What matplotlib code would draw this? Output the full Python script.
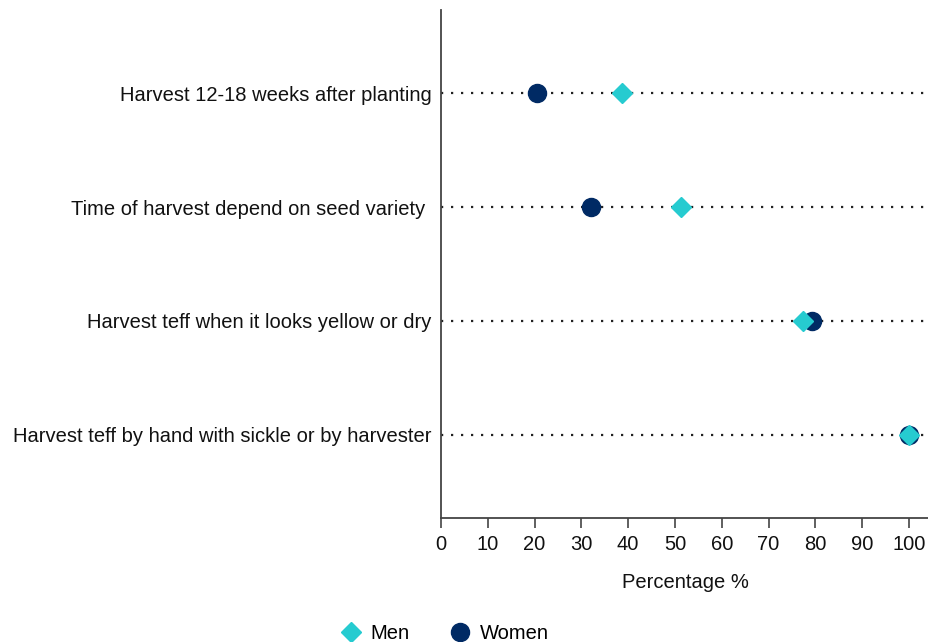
import matplotlib
matplotlib.use("Agg")
import matplotlib.pyplot as plt
from matplotlib.lines import Line2D

plt.rcParams['font.family'] = ['Liberation Sans', 'DejaVu Sans']

categories = [
    "Harvest 12-18 weeks after planting",
    "Time of harvest depend on seed variety ",
    "Harvest teff when it looks yellow or dry",
    "Harvest teff by hand with sickle or by harvester",
]
men = [38.7, 51.3, 77.4, 100.0]
women = [20.5, 32.0, 79.3, 100.0]
xticks = [0, 10, 20, 30, 40, 50, 60, 70, 80, 90, 100]

men_color = "#26CBD0"
women_color = "#002A64"
fs = 14.5

fig = plt.figure(figsize=(9.29, 6.42), dpi=100)
ax = fig.add_axes([0.4747, 0.1931, 0.5253, 0.7913])

ypos = list(range(len(categories)))
for y in ypos:
    ax.axhline(y, color="#222222", linestyle=(0, (1, 3.5)), linewidth=1.6,
               dash_capstyle="butt", zorder=1)

ax.plot(women, ypos, linestyle="none", marker="o", markersize=13,
        color=women_color, zorder=3)
ax.plot(men, ypos, linestyle="none", marker="D", markersize=10.5,
        color=men_color, zorder=4)

ax.set_xlim(0, 104.3)
ax.set_ylim(3.73, -0.73)
ax.set_yticks(ypos)
ax.set_yticklabels(categories, fontsize=fs, color="#111111")
ax.set_xticks(xticks)
ax.set_xticklabels([str(t) for t in xticks], fontsize=fs, color="#111111")
ax.tick_params(axis="y", length=0, pad=7)
ax.tick_params(axis="x", length=7, width=1.2, color="#444444", pad=5)
ax.set_xlabel("Percentage %", fontsize=fs, color="#111111", labelpad=14)

for s in ["top", "right"]:
    ax.spines[s].set_visible(False)
for s in ["left", "bottom"]:
    ax.spines[s].set_color("#444444")
    ax.spines[s].set_linewidth(1.3)

handles = [
    Line2D([], [], linestyle="none", marker="D", markersize=10.5, color=men_color, label="Men"),
    Line2D([], [], linestyle="none", marker="o", markersize=13, color=women_color, label="Women"),
]
fig.legend(handles=handles, loc="lower center", bbox_to_anchor=(0.479, -0.03), ncol=2,
           frameon=False, fontsize=fs, handletextpad=0.5, columnspacing=2.0,
           handlelength=1.0)

fig.savefig("out.png", dpi=100)
